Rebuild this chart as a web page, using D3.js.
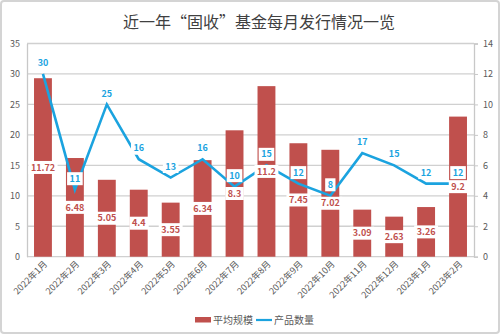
<!DOCTYPE html>
<html><head><meta charset="utf-8">
<script src="https://cdn.jsdelivr.net/npm/d3@7"></script>
<style>body{margin:0;background:#fff}svg{display:block}text{font-family:"Noto Sans CJK SC","Noto Sans",sans-serif}</style>
</head><body><svg id="c" width="500" height="334"></svg>
<script>
const months = ["2022年1月","2022年2月","2022年3月","2022年4月","2022年5月","2022年6月","2022年7月","2022年8月","2022年9月","2022年10月","2022年11月","2022年12月","2023年1月","2023年2月"];
const avgScale = [11.72,6.48,5.05,4.4,3.55,6.34,8.3,11.2,7.45,7.02,3.09,2.63,3.26,9.2];
const productCount = [30,11,25,16,13,16,11.5,15,12,10,17,15,12,12];
const productLabels = ["30","11","25","16","13","16","10","15","12","8","17","15","12","12"];
const leftTicks = [0,5,10,15,20,25,30,35];
const rightTicks = [0,2,4,6,8,10,12,14];

const svg = d3.select("#c");
const L=27, R=474, T=43.5, B=256.7;
const red="#c0504d", blue="#1ba3df", grey="#595959";

svg.append("rect").attr("x",1).attr("y",1).attr("width",498).attr("height",332).attr("rx",3)
  .attr("fill","#fff").attr("stroke","#d4d4d4").attr("stroke-width",2);

svg.append("text").attr("x",259).attr("y",28).attr("text-anchor","middle")
  .attr("font-size",16).attr("fill","#404040").text("近一年“固收”基金每月发行情况一览");

const x = d3.scaleBand().domain(months).range([L,R]).paddingInner(0.44).paddingOuter(0.22);
const yL = d3.scaleLinear().domain([0,35]).range([B,T]);
const yR = d3.scaleLinear().domain([0,14]).range([B,T]);

// gridlines
svg.append("g").selectAll("line").data(leftTicks).join("line")
  .attr("x1",L).attr("x2",R).attr("y1",d=>yL(d)).attr("y2",d=>yL(d))
  .attr("stroke","#d0d0d0").attr("stroke-width",1.3);

// left axis
const gl = svg.append("g").attr("transform",`translate(${L},0)`)
  .call(d3.axisLeft(yL).tickValues(leftTicks).tickSize(0).tickPadding(7));
gl.select(".domain").attr("stroke","#c8c8c8").attr("stroke-width",1.3);
gl.selectAll("text").attr("font-size",9).attr("fill",grey).attr("font-family","Noto Sans, sans-serif");

// right axis
const gr = svg.append("g").attr("transform",`translate(${R},0)`)
  .call(d3.axisRight(yR).tickValues(rightTicks).tickSize(4).tickPadding(5));
gr.select(".domain").attr("stroke","#c8c8c8").attr("stroke-width",1.3);
gr.selectAll(".tick line").attr("stroke","#c8c8c8");
gr.selectAll("text").attr("font-size",9).attr("fill",grey).attr("font-family","Noto Sans, sans-serif");

// x axis labels
const gx = svg.append("g").attr("transform",`translate(0,${B})`)
  .call(d3.axisBottom(x).tickSize(0).tickPadding(0));
gx.select(".domain").remove();
gx.selectAll("text").attr("font-size",9).attr("fill",grey)
  .attr("text-anchor","end").attr("dy",0)
  .attr("transform","translate(5,8) rotate(-45)");

// bars
svg.append("g").selectAll("rect").data(avgScale).join("rect")
  .attr("x",(d,i)=>x(months[i])).attr("width",x.bandwidth())
  .attr("y",d=>yR(d)).attr("height",d=>B-yR(d)).attr("fill",red);

// line
const line = d3.line().x((d,i)=>x(months[i])+x.bandwidth()/2).y(d=>yL(d));
svg.append("path").datum(productCount).attr("d",line)
  .attr("fill","none").attr("stroke",blue).attr("stroke-width",2.6).attr("stroke-linejoin","miter");

// bar labels
function label(g, tx, cx, cy, color){
  const t = g.append("text").attr("x",cx).attr("y",cy).attr("dy","0.35em")
    .attr("text-anchor","middle").attr("font-size",9).attr("font-weight","bold")
    .attr("fill",color).attr("font-family","Noto Sans, sans-serif").text(tx);
  const bb = t.node().getBBox();
  g.insert("rect","text:last-child").attr("x",bb.x-2.5).attr("y",cy-6.5).attr("width",bb.width+5).attr("height",13).attr("fill","#fff");
}
const gb = svg.append("g");
avgScale.forEach((d,i)=>{
  const g = gb.append("g");
  label(g, String(d), x(months[i])+x.bandwidth()/2, yR(d/2), red);
});
const glb = svg.append("g");
productCount.forEach((d,i)=>{
  const g = glb.append("g");
  label(g, productLabels[i], x(months[i])+x.bandwidth()/2, yL(d)-11, blue);
});

// legend
const lg = svg.append("g");
lg.append("rect").attr("x",195).attr("y",317).attr("width",16).attr("height",5.5).attr("fill",red);
lg.append("text").attr("x",213).attr("y",323.5).attr("font-size",10).attr("fill",grey).text("平均规模");
lg.append("line").attr("x1",256).attr("x2",272).attr("y1",320).attr("y2",320).attr("stroke",blue).attr("stroke-width",2.2);
lg.append("text").attr("x",274).attr("y",323.5).attr("font-size",10).attr("fill",grey).text("产品数量");
</script></body></html>
